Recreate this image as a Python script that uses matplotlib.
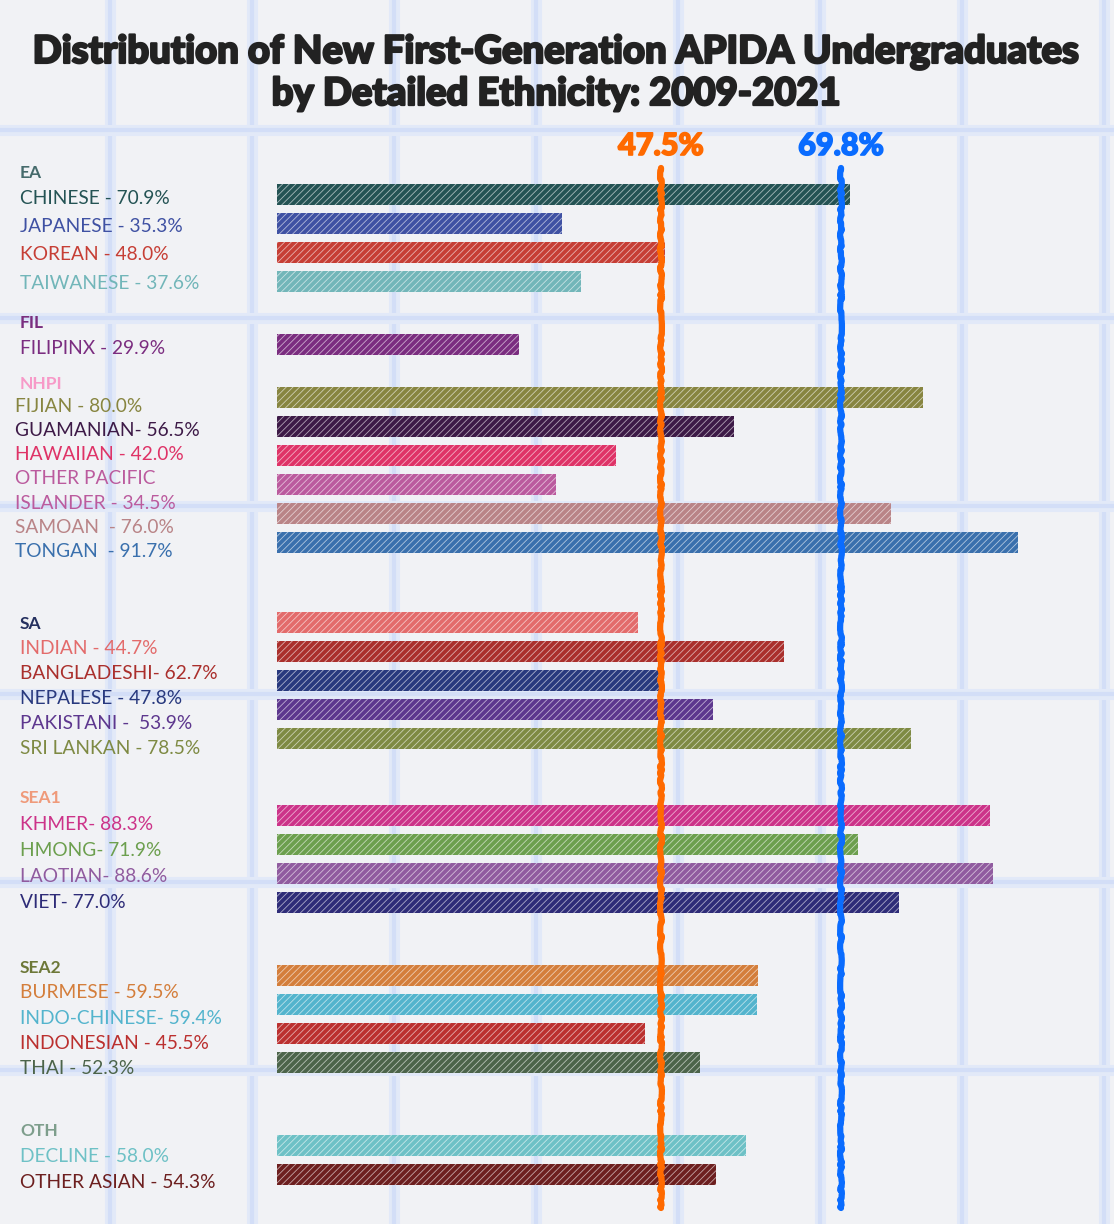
import matplotlib
matplotlib.use("Agg")
import matplotlib.pyplot as plt
import matplotlib.patheffects as pe
import numpy as np

# データ
groups = ["EA", "FIL", "NHPI", "SA", "SEA1", "SEA2", "OTH"]
group_colors = ["#466b6c", "#7a2e7e", "#f79ac8", "#25305f", "#ef9a7a", "#6d7838", "#7e9e8c"]

labels = [
    ["CHINESE - 70.9%", "JAPANESE - 35.3%", "KOREAN - 48.0%", "TAIWANESE - 37.6%"],
    ["FILIPINX - 29.9%"],
    ["FIJIAN - 80.0%", "GUAMANIAN- 56.5%", "HAWAIIAN - 42.0%", "OTHER PACIFIC\nISLANDER - 34.5%",
     "SAMOAN  - 76.0%", "TONGAN  - 91.7%"],
    ["INDIAN - 44.7%", "BANGLADESHI- 62.7%", "NEPALESE - 47.8%", "PAKISTANI -  53.9%", "SRI LANKAN - 78.5%"],
    ["KHMER- 88.3%", "HMONG- 71.9%", "LAOTIAN- 88.6%", "VIET- 77.0%"],
    ["BURMESE - 59.5%", "INDO-CHINESE- 59.4%", "INDONESIAN - 45.5%", "THAI - 52.3%"],
    ["DECLINE - 58.0%", "OTHER ASIAN - 54.3%"],
]
values = [
    [70.9, 35.3, 48.0, 37.6],
    [29.9],
    [80.0, 56.5, 42.0, 34.5, 76.0, 91.7],
    [44.7, 62.7, 47.8, 53.9, 78.5],
    [88.3, 71.9, 88.6, 77.0],
    [59.5, 59.4, 45.5, 52.3],
    [58.0, 54.3],
]
colors = [
    ["#245354", "#3f51a3", "#c63e35", "#72b6b9"],
    ["#7b2d80"],
    ["#878540", "#3d1a47", "#df3367", "#bb5b9e", "#b98487", "#3a70ad"],
    ["#e36b6b", "#aa2f2c", "#28397e", "#5d378e", "#7e8a43"],
    ["#cc3389", "#6c9f4e", "#905b9f", "#2e2c78"],
    ["#d47e3b", "#53b4cd", "#bb302f", "#4c644a"],
    ["#6ec1c6", "#6d1f1f"],
]
ref_values = [47.5, 69.8]
ref_colors = ["#ff6a00", "#0a6cff"]

# レイアウト（ピクセル単位）
W, H = 1114, 1224
bar_top, bar_step, bar_h = 194, 29, 21
group_gap = [0, 34, 24, 51, 48, 44, 54]
head_y = [173, 323, 384, 624, 798, 968, 1131]
first_off = [25, 26, 22, 24, 26, 25, 25]
item_step = [28.5, 26, 24.3, 25.2, 26.3, 25.3, 27]
label_x = [20, 20, 15, 20, 20, 20, 20]

plt.rcParams["font.family"] = ["Lato", "DejaVu Sans"]
plt.rcParams["hatch.linewidth"] = 0.6

fig = plt.figure(figsize=(W / 100, H / 100), dpi=100)
fig.patch.set_facecolor("#f1f2f5")

# 方眼紙の背景
bg = fig.add_axes([0, 0, 1, 1])
bg.set_xlim(0, W)
bg.set_ylim(H, 0)
bg.axis("off")
for gx in np.arange(110, W, 142):
    bg.axvline(gx, color="#e2e9f8", lw=8, zorder=0)
    bg.axvline(gx, color="#d3def7", lw=3, zorder=0)
for gy in np.arange(130, H, 188):
    bg.axhline(gy, color="#e2e9f8", lw=8, zorder=0)
    bg.axhline(gy, color="#d3def7", lw=3, zorder=0)

# タイトル
bg.text(W / 2, 73, "Distribution of New First-Generation APIDA Undergraduates\nby Detailed Ethnicity: 2009-2021",
        ha="center", va="center", fontsize=27.5, fontweight="black", color="#222222",
        linespacing=1.27, path_effects=[pe.withStroke(linewidth=1.6, foreground="#222222")])

# 棒グラフ本体
ax = fig.add_axes([277 / W, 0, 808 / W, 1])
ax.set_xlim(0, 100)
ax.set_ylim(H, 0)
ax.axis("off")
ax.patch.set_alpha(0)

y = bar_top
for gi in range(len(groups)):
    y += group_gap[gi]
    ys = y + np.arange(len(values[gi])) * bar_step
    ax.barh(ys, values[gi], height=bar_h, color=colors[gi],
            edgecolor=(1, 1, 1, 0.6), linewidth=0, hatch="/////", zorder=2)
    y = ys[-1] + bar_step

    # ラベル
    bg.text(20, head_y[gi], groups[gi], ha="left", va="center",
            fontsize=12.5, fontweight="bold", color=group_colors[gi])
    slot = 0
    for lab, c in zip(labels[gi], colors[gi]):
        for line in lab.split("\n"):
            bg.text(label_x[gi], head_y[gi] + first_off[gi] + slot * item_step[gi], line,
                    ha="left", va="center", fontsize=13.8, color=c)
            slot += 1

# 平均線
for v, c in zip(ref_values, ref_colors):
    ln, = ax.plot([v, v], [168, 1208], color=c, lw=4.5, solid_capstyle="round", zorder=3)
    ln.set_sketch_params(scale=0.9, length=60, randomness=30)
    ax.text(v, 146, f"{v}%", ha="center", va="center", fontsize=22, fontweight="black", color=c,
            path_effects=[pe.withStroke(linewidth=1.2, foreground=c)])

fig.savefig("out.png", dpi=100, facecolor=fig.get_facecolor())
